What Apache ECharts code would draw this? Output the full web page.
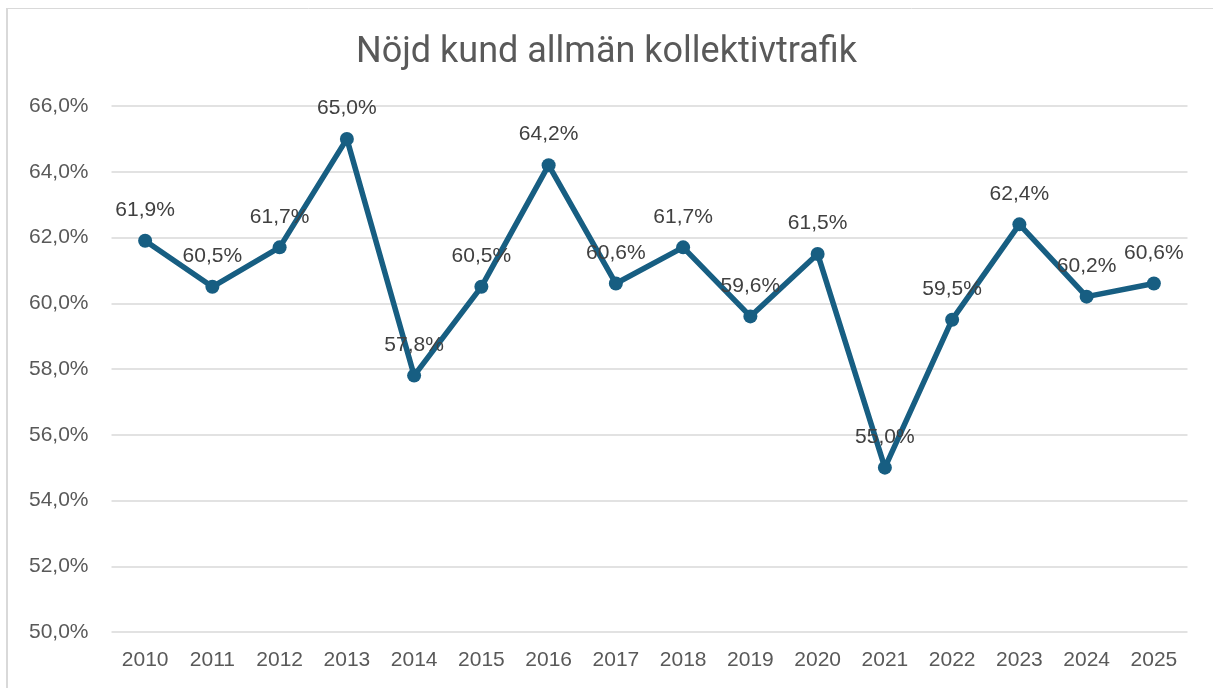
<!DOCTYPE html>
<html>
<head>
<meta charset="utf-8">
<script src="https://cdn.jsdelivr.net/npm/echarts@6/dist/echarts.min.js"></script>
<style>
html,body{margin:0;padding:0;background:#fff;}
#c{width:1213px;height:688px;}
</style>
</head>
<body>
<div id="c"></div>
<script>
var titleText = 'Nöjd kund allmän kollektivtrafik';
var years = ['2010','2011','2012','2013','2014','2015','2016','2017','2018','2019','2020','2021','2022','2023','2024','2025'];
var values = [61.9, 60.5, 61.7, 65.0, 57.8, 60.5, 64.2, 60.6, 61.7, 59.6, 61.5, 55.0, 59.5, 62.4, 60.2, 60.6];
var yMin = 50, yMax = 66, yStep = 2;

function pct(v){ return v.toFixed(1).replace('.', ',') + '%'; }

var chart = echarts.init(document.getElementById('c'), null, {renderer:'canvas'});
chart.setOption({
  backgroundColor:'#fff',
  animation:false,
  graphic:[
    {type:'line', shape:{x1:7, y1:8.5, x2:1213, y2:8.5}, style:{stroke:'#d9d9d9', lineWidth:1}},
    {type:'line', shape:{x1:7, y1:8, x2:7, y2:688}, style:{stroke:'#d9d9d9', lineWidth:2}}
  ],
  title:{
    text:titleText, left:'center', top:30,
    textStyle:{fontFamily:'Roboto', fontWeight:400, fontSize:36, color:'#595959'}
  },
  grid:{left:111.5, right:25.5, top:106, bottom:56, containLabel:false},
  xAxis:{
    type:'category', data:years, boundaryGap:true,
    axisLine:{show:false}, axisTick:{show:false},
    axisLabel:{color:'#595959', fontSize:21, fontFamily:'Liberation Sans', margin:18}
  },
  yAxis:{
    type:'value', min:yMin, max:yMax, interval:yStep,
    axisLine:{show:false}, axisTick:{show:false},
    splitLine:{lineStyle:{color:'#d9d9d9', width:1.5}},
    axisLabel:{color:'#595959', fontSize:21, fontFamily:'Liberation Sans', margin:23,
      formatter:function(v){ return pct(v); }}
  },
  series:[{
    type:'line', data:values,
    lineStyle:{color:'#175e82', width:5.5},
    itemStyle:{color:'#175e82'},
    symbol:'circle', symbolSize:14,
    label:{show:true, position:'top', distance:13, color:'#404040', fontSize:21, fontFamily:'Liberation Sans',
      formatter:function(p){ return pct(p.value); }}
  }]
});
</script>
</body>
</html>
